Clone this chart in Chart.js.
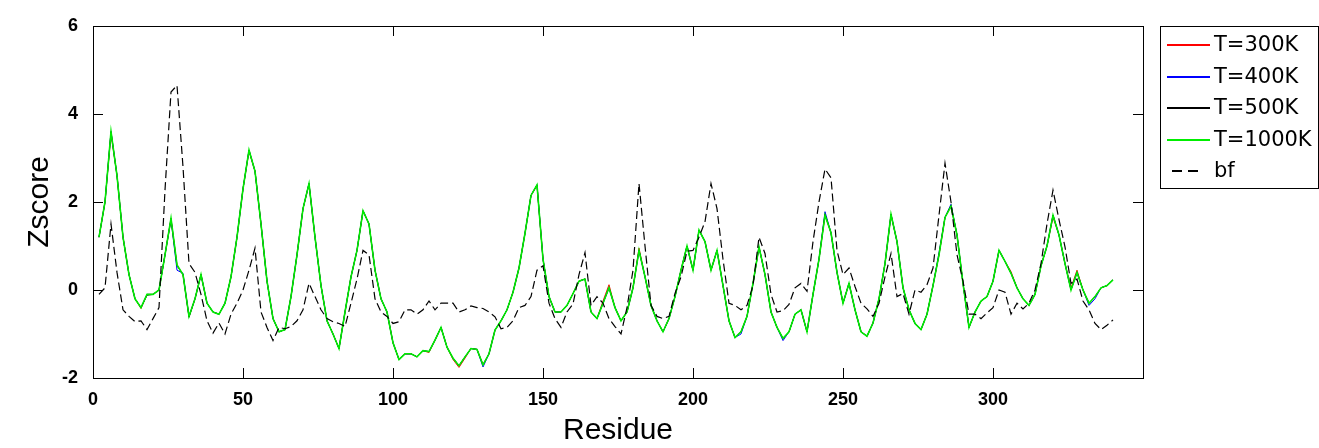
<!DOCTYPE html>
<html>
<head>
<meta charset="utf-8">
<title>Zscore per residue</title>
<script src="https://cdn.jsdelivr.net/npm/chart.js"></script>
<style>
  html, body { margin: 0; padding: 0; background: #fff; }
</style>
</head>
<body>
<canvas id="zplot" width="1319" height="448"></canvas>
<script>
// residue numbers, sampled every 2 residues along the chain (2 .. 340)
const residues = Array.from({length: 170}, (_, i) => 2 + 2 * i);

const zT300 = [
  1.2, 2.0, 3.55, 2.6, 1.2, 0.35, -0.2, -0.42, -0.1, -0.1,
  0.0, 0.8, 1.6, 0.57, 0.35, -0.6, -0.2, 0.35, -0.3, -0.5,
  -0.55, -0.3, 0.3, 1.2, 2.3, 3.15, 2.7, 1.5, 0.2, -0.65,
  -0.95, -0.9, -0.15, 0.8, 1.85, 2.4, 1.2, 0.1, -0.7, -1.0,
  -1.33, -0.5, 0.3, 0.9, 1.8, 1.5, 0.45, -0.2, -0.5, -1.2,
  -1.58, -1.45, -1.45, -1.52, -1.38, -1.42, -1.14, -0.85, -1.3, -1.58,
  -1.76, -1.55, -1.33, -1.35, -1.7, -1.45, -0.91, -0.7, -0.45, -0.05,
  0.5, 1.29, 2.15, 2.37, 0.7, -0.15, -0.5, -0.5, -0.35, -0.08,
  0.2, 0.25, -0.5, -0.65, -0.25, 0.12, -0.4, -0.7, -0.5, 0.05,
  0.95, 0.3, -0.35, -0.7, -0.95, -0.65, -0.15, 0.45, 1.0, 0.45,
  1.36, 1.1, 0.45, 0.9, 0.1, -0.7, -1.08, -0.95, -0.6, 0.15,
  0.98, 0.35, -0.5, -0.85, -1.1, -0.95, -0.55, -0.45, -0.95, -0.1,
  0.7, 1.7, 1.3, 0.4, -0.3, 0.15, -0.45, -0.95, -1.05, -0.75,
  -0.2, 0.6, 1.7, 1.1, 0.05, -0.45, -0.76, -0.9, -0.55, 0.1,
  0.8, 1.65, 1.9, 1.25, 0.15, -0.85, -0.5, -0.25, -0.15, 0.2,
  0.9, 0.65, 0.42, 0.05, -0.2, -0.35, -0.1, 0.55, 1.0, 1.65,
  1.25, 0.6, 0.05, 0.45, 0.0, -0.3, -0.15, 0.05, 0.1, 0.23
];
const zT400 = [
  1.2, 2.0, 3.6, 2.6, 1.2, 0.35, -0.2, -0.4, -0.1, -0.1,
  0.0, 0.8, 1.6, 0.45, 0.38, -0.6, -0.2, 0.35, -0.3, -0.5,
  -0.55, -0.3, 0.3, 1.2, 2.3, 3.18, 2.7, 1.5, 0.2, -0.65,
  -0.95, -0.9, -0.15, 0.8, 1.85, 2.42, 1.2, 0.1, -0.7, -1.0,
  -1.33, -0.5, 0.3, 0.9, 1.8, 1.5, 0.45, -0.2, -0.5, -1.2,
  -1.58, -1.45, -1.45, -1.52, -1.38, -1.4, -1.14, -0.85, -1.3, -1.55,
  -1.72, -1.52, -1.33, -1.35, -1.75, -1.45, -0.91, -0.7, -0.45, -0.05,
  0.5, 1.29, 2.15, 2.39, 0.7, -0.15, -0.5, -0.5, -0.35, -0.08,
  0.2, 0.25, -0.5, -0.65, -0.3, 0.05, -0.4, -0.7, -0.5, 0.05,
  0.9, 0.3, -0.35, -0.7, -0.95, -0.65, -0.15, 0.45, 1.0, 0.45,
  1.36, 1.1, 0.45, 0.9, 0.1, -0.7, -1.08, -1.0, -0.6, 0.15,
  0.98, 0.35, -0.5, -0.85, -1.15, -0.95, -0.55, -0.45, -0.95, -0.1,
  0.7, 1.78, 1.3, 0.4, -0.3, 0.15, -0.45, -0.95, -1.05, -0.75,
  -0.2, 0.6, 1.72, 1.1, 0.05, -0.45, -0.76, -0.9, -0.55, 0.1,
  0.85, 1.65, 1.95, 1.25, 0.15, -0.85, -0.5, -0.25, -0.15, 0.2,
  0.9, 0.65, 0.38, 0.05, -0.2, -0.35, -0.1, 0.55, 1.0, 1.7,
  1.25, 0.6, 0.0, 0.4, 0.0, -0.35, -0.2, 0.05, 0.1, 0.23
];
const zT500 = [
  1.2, 2.0, 3.6, 2.6, 1.2, 0.35, -0.2, -0.4, -0.12, -0.1,
  0.0, 0.8, 1.63, 0.55, 0.35, -0.62, -0.2, 0.35, -0.3, -0.5,
  -0.55, -0.3, 0.3, 1.2, 2.3, 3.18, 2.7, 1.5, 0.2, -0.65,
  -0.95, -0.9, -0.15, 0.8, 1.85, 2.42, 1.2, 0.1, -0.7, -1.0,
  -1.33, -0.5, 0.3, 0.9, 1.8, 1.5, 0.45, -0.2, -0.5, -1.2,
  -1.58, -1.45, -1.45, -1.52, -1.38, -1.4, -1.14, -0.85, -1.3, -1.55,
  -1.72, -1.52, -1.33, -1.35, -1.7, -1.45, -0.91, -0.7, -0.45, -0.05,
  0.5, 1.29, 2.15, 2.39, 0.7, -0.15, -0.5, -0.5, -0.35, -0.08,
  0.2, 0.25, -0.5, -0.65, -0.3, 0.05, -0.4, -0.7, -0.5, 0.05,
  0.9, 0.3, -0.35, -0.7, -0.95, -0.65, -0.15, 0.45, 1.0, 0.45,
  1.36, 1.1, 0.45, 0.9, 0.1, -0.7, -1.08, -0.95, -0.6, 0.15,
  0.98, 0.35, -0.5, -0.85, -1.1, -0.95, -0.55, -0.45, -0.95, -0.1,
  0.7, 1.72, 1.3, 0.4, -0.3, 0.15, -0.45, -0.95, -1.05, -0.75,
  -0.2, 0.6, 1.72, 1.1, 0.05, -0.45, -0.76, -0.9, -0.55, 0.1,
  0.8, 1.65, 1.92, 1.25, 0.15, -0.85, -0.5, -0.25, -0.15, 0.2,
  0.9, 0.65, 0.38, 0.05, -0.2, -0.35, -0.1, 0.55, 1.0, 1.7,
  1.25, 0.6, 0.0, 0.4, 0.0, -0.3, -0.15, 0.05, 0.1, 0.23
];
const zT1000 = [
  1.2, 2.0, 3.6, 2.6, 1.2, 0.35, -0.2, -0.4, -0.1, -0.1,
  0.0, 0.8, 1.63, 0.57, 0.35, -0.6, -0.2, 0.35, -0.3, -0.5,
  -0.55, -0.3, 0.3, 1.2, 2.3, 3.18, 2.7, 1.5, 0.2, -0.65,
  -0.95, -0.9, -0.15, 0.8, 1.85, 2.42, 1.2, 0.1, -0.7, -1.0,
  -1.33, -0.5, 0.3, 0.9, 1.8, 1.5, 0.45, -0.2, -0.5, -1.2,
  -1.58, -1.45, -1.45, -1.52, -1.38, -1.4, -1.14, -0.85, -1.3, -1.55,
  -1.72, -1.52, -1.33, -1.35, -1.7, -1.45, -0.91, -0.7, -0.45, -0.05,
  0.5, 1.29, 2.15, 2.39, 0.7, -0.15, -0.5, -0.5, -0.35, -0.08,
  0.2, 0.25, -0.5, -0.65, -0.3, 0.05, -0.4, -0.7, -0.5, 0.05,
  0.9, 0.3, -0.35, -0.7, -0.95, -0.65, -0.15, 0.45, 1.0, 0.45,
  1.36, 1.1, 0.45, 0.9, 0.1, -0.7, -1.08, -0.95, -0.6, 0.15,
  0.98, 0.35, -0.5, -0.85, -1.1, -0.95, -0.55, -0.45, -0.95, -0.1,
  0.7, 1.7, 1.3, 0.4, -0.3, 0.15, -0.45, -0.95, -1.05, -0.75,
  -0.2, 0.6, 1.72, 1.1, 0.05, -0.45, -0.76, -0.9, -0.55, 0.1,
  0.8, 1.65, 1.9, 1.25, 0.15, -0.85, -0.5, -0.25, -0.15, 0.2,
  0.9, 0.65, 0.38, 0.05, -0.2, -0.35, -0.1, 0.55, 1.0, 1.7,
  1.25, 0.6, 0.0, 0.4, 0.0, -0.3, -0.15, 0.05, 0.1, 0.23
];
// normalised B-factor
const zBf = [
  -0.1, 0.05, 1.5, 0.4, -0.45, -0.6, -0.72, -0.7, -0.9, -0.65,
  -0.4, 2.27, 4.5, 4.65, 2.8, 0.6, 0.4, -0.1, -0.7, -0.98,
  -0.75, -1.0, -0.55, -0.3, 0.0, 0.45, 0.95, -0.5, -0.85, -1.15,
  -0.85, -0.88, -0.83, -0.7, -0.45, 0.15, -0.15, -0.45, -0.65, -0.72,
  -0.76, -0.83, -0.3, 0.25, 0.9, 0.8, -0.2, -0.5, -0.6, -0.76,
  -0.72, -0.45, -0.45, -0.55, -0.45, -0.25, -0.45, -0.3, -0.3, -0.3,
  -0.5, -0.45, -0.36, -0.4, -0.42, -0.5, -0.61, -0.88, -0.85, -0.7,
  -0.4, -0.35, -0.15, 0.45, 0.55, -0.3, -0.65, -0.85, -0.5, -0.32,
  0.35, 0.85, -0.35, -0.15, -0.3, -0.65, -0.83, -1.0, -0.4, 0.45,
  2.42, 1.0, -0.35, -0.6, -0.65, -0.6, -0.08, 0.3, 0.88, 0.9,
  1.2, 1.55, 2.42, 1.85, 0.7, -0.3, -0.35, -0.45, -0.35, 0.1,
  1.2, 0.83, -0.1, -0.5, -0.47, -0.33, 0.05, 0.15, -0.03, 1.1,
  2.0, 2.75, 2.55, 0.9, 0.35, 0.5, 0.08, -0.3, -0.43, -0.6,
  -0.3, 0.3, 0.83, -0.15, -0.08, -0.55, 0.0, -0.05, 0.12, 0.5,
  1.7, 2.88, 2.0, 0.8, 0.2, -0.55, -0.55, -0.65, -0.52, -0.4,
  0.0, -0.05, -0.55, -0.3, -0.43, -0.3, 0.0, 0.6, 1.5, 2.27,
  1.6, 0.98, 0.15, 0.25, -0.25, -0.45, -0.76, -0.9, -0.8, -0.68
];

const seriesNames = ['T=300K', 'T=400K', 'T=500K', 'T=1000K', 'bf'];
const xTicks = [0, 50, 100, 150, 200, 250, 300];
const yTicks = [-2, 0, 2, 4, 6];

function pts(vals) {
  return vals.map((v, i) => ({x: residues[i], y: v}));
}

// matlab style box, inward ticks on all sides, and the boxed legend
const matlabFrame = {
  id: 'matlabFrame',
  afterDraw(chart) {
    const ctx = chart.ctx, a = chart.chartArea;
    const xs = chart.scales.x, ys = chart.scales.y;
    ctx.save();
    ctx.strokeStyle = '#000';
    ctx.lineWidth = 1;
    ctx.setLineDash([]);
    ctx.strokeRect(a.left + 0.5, a.top + 0.5, a.right - a.left, a.bottom - a.top);
    ctx.beginPath();
    xTicks.forEach(v => {
      const px = Math.round(xs.getPixelForValue(v)) + 0.5;
      ctx.moveTo(px, a.bottom); ctx.lineTo(px, a.bottom - 10);
      ctx.moveTo(px, a.top); ctx.lineTo(px, a.top + 10);
    });
    yTicks.forEach(v => {
      const py = Math.round(ys.getPixelForValue(v)) + 0.5;
      ctx.moveTo(a.left, py); ctx.lineTo(a.left + 10, py);
      ctx.moveTo(a.right, py); ctx.lineTo(a.right - 10, py);
    });
    ctx.stroke();

    // legend
    const lx = a.right + 17, ly = a.top, lw = chart.width - lx - 1, lh = 162;
    ctx.fillStyle = '#fff';
    ctx.fillRect(lx, ly, lw, lh);
    ctx.strokeRect(lx + 0.5, ly + 0.5, lw, lh);
    ctx.font = '21px "DejaVu Sans"';
    ctx.textBaseline = 'middle';
    ctx.textAlign = 'left';
    chart.data.datasets.forEach((ds, i) => {
      const cy = Math.round(ly + 19 + i * 31.5);
      ctx.strokeStyle = ds.borderColor;
      ctx.lineWidth = 2;
      ctx.beginPath();
      if (ds.borderDash) {
        ctx.setLineDash([10, 6]);
        ctx.moveTo(lx + 12, cy); ctx.lineTo(lx + 38, cy);
      } else {
        ctx.setLineDash([]);
        ctx.moveTo(lx + 7, cy); ctx.lineTo(lx + 50, cy);
      }
      ctx.stroke();
      ctx.setLineDash([]);
      ctx.fillStyle = '#000';
      ctx.fillText(ds.label, lx + 54, cy + 1);
    });
    ctx.restore();
  }
};

const tickFont = {family: '"Liberation Sans", Arial, sans-serif', size: 18, weight: 'bold'};
const titleFont = {family: '"Liberation Sans", Arial, sans-serif', size: 30, lineHeight: 1};

new Chart(document.getElementById('zplot'), {
  type: 'line',
  data: {
    datasets: [
      {label: seriesNames[0], data: pts(zT300), borderColor: '#ff0000', borderWidth: 1, order: 4},
      {label: seriesNames[1], data: pts(zT400), borderColor: '#0000ff', borderWidth: 1, order: 3},
      {label: seriesNames[2], data: pts(zT500), borderColor: '#000000', borderWidth: 1, order: 2},
      {label: seriesNames[3], data: pts(zT1000), borderColor: '#00ee00', borderWidth: 1.6, order: 1},
      {label: seriesNames[4], data: pts(zBf), borderColor: '#000000', borderWidth: 1.2, borderDash: [8, 4], order: 0}
    ]
  },
  options: {
    responsive: false,
    animation: false,
    elements: {
      point: {radius: 0, hoverRadius: 0},
      line: {tension: 0, fill: false}
    },
    layout: {padding: {top: 26, right: 176, left: 0, bottom: 0}},
    plugins: {
      legend: {display: false},
      tooltip: {enabled: false}
    },
    scales: {
      x: {
        type: 'linear',
        min: 0,
        max: 350,
        afterFit: s => { s.height = 70; },
        grid: {display: false},
        border: {display: false},
        ticks: {
          stepSize: 50,
          padding: 3,
          color: '#000',
          font: tickFont,
          maxRotation: 0,
          callback: v => (v <= 300 ? v : '')
        },
        title: {display: true, text: 'Residue', color: '#000', font: titleFont, padding: {top: 0, bottom: 2}}
      },
      y: {
        min: -2,
        max: 6,
        afterFit: s => { s.width = 93; },
        grid: {display: false},
        border: {display: false},
        ticks: {stepSize: 2, padding: 7, color: '#000', font: tickFont},
        title: {display: true, text: 'Zscore', color: '#000', font: titleFont, padding: {top: 25, bottom: 0}}
      }
    }
  },
  plugins: [matlabFrame]
});
</script>
</body>
</html>
